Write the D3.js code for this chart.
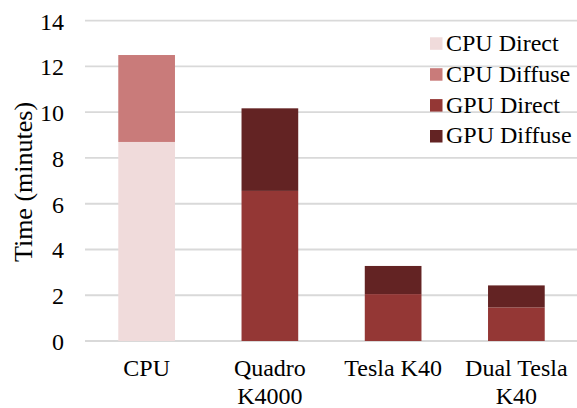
<!DOCTYPE html>
<html><head><meta charset="utf-8">
<script src="https://cdn.jsdelivr.net/npm/d3@7"></script>
</head><body style="margin:0;background:#fff"><svg id="c" width="577" height="408"></svg>
<script>
const categories = [["CPU"], ["Quadro", "K4000"], ["Tesla K40"], ["Dual Tesla", "K40"]];
const seriesNames = ["CPU Direct", "CPU Diffuse", "GPU Direct", "GPU Diffuse"];
const cpuDirect  = [8.7, 0, 0, 0];
const cpuDiffuse = [3.8, 0, 0, 0];
const gpuDirect  = [0, 6.56, 2.05, 1.47];
const gpuDiffuse = [0, 3.61, 1.23, 0.96];
const colors = ["#f0dbdb", "#c97b7a", "#943735", "#632323"];
const yTicks = [0, 2, 4, 6, 8, 10, 12, 14];
const FONT = "'Liberation Serif'";

const svg = d3.select("#c");
const keys = categories.map(c => c.join(" "));
const x = d3.scaleBand().domain(keys).range([85, 578]).paddingInner(0.54).paddingOuter(0.27);
const y = d3.scaleLinear().domain([0, 14]).range([341, 20.7]);

// grid
svg.append("g").selectAll("line").data(yTicks).join("line")
  .attr("x1", 85).attr("x2", 577).attr("y1", d => y(d)).attr("y2", d => y(d))
  .attr("stroke", "#d9d9d9").attr("stroke-width", 1.8);

const rows = keys.map((k, i) => ({key: k, "CPU Direct": cpuDirect[i], "CPU Diffuse": cpuDiffuse[i], "GPU Direct": gpuDirect[i], "GPU Diffuse": gpuDiffuse[i]}));
const stack = d3.stack().keys(seriesNames)(rows);
svg.append("g").selectAll("g").data(stack).join("g").attr("fill", (d, i) => colors[i])
  .selectAll("rect").data(d => d.filter(p => p[1] - p[0] > 0)).join("rect")
  .attr("x", d => x(d.data.key)).attr("width", x.bandwidth())
  .attr("y", d => y(d[1])).attr("height", d => y(d[0]) - y(d[1]));

// y axis labels
const yAxis = d3.axisLeft(y).tickValues(yTicks).tickSize(0).tickPadding(0);
const ga = svg.append("g").attr("transform", "translate(64,0)").call(yAxis);
ga.select(".domain").remove();
ga.selectAll("text").style("font-family", FONT).style("font-size", "24px").attr("fill", "#000").attr("dy", "0.35em");

// x labels
const gx = svg.append("g");
categories.forEach((lines, i) => {
  const cx = x(keys[i]) + x.bandwidth() / 2;
  const t = gx.append("text").attr("text-anchor", "middle").style("font-family", FONT).style("font-size", "24px")
    .attr("x", cx).attr("y", 376);
  lines.forEach((l, j) => t.append("tspan").attr("x", cx).attr("dy", j ? 28 : 0).text(l));
});

// y title
svg.append("text").attr("transform", "translate(32,182) rotate(-90)").attr("text-anchor", "middle")
  .style("font-family", FONT).style("font-size", "26px").text("Time (minutes)");

// legend
const lg = svg.append("g");
seriesNames.forEach((s, i) => {
  const cy = 43.3 + i * 30.9;
  lg.append("rect").attr("x", 430).attr("y", cy - 6).attr("width", 12.5).attr("height", 12.5).attr("fill", colors[i]);
  lg.append("text").attr("x", 446).attr("y", cy + 7.4).style("font-family", FONT).style("font-size", "24px").text(s);
});
</script></body></html>
